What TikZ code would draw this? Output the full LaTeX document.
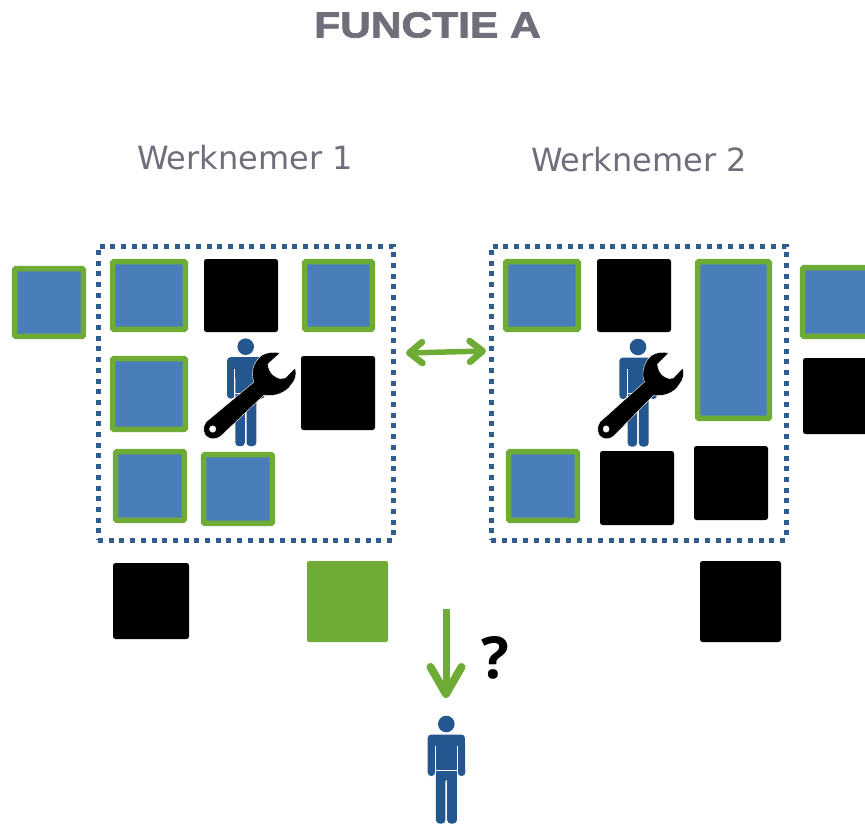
\documentclass[tikz,border=0pt]{standalone}
\usepackage{fontspec}
\setmainfont{Liberation Sans}
\newfontfamily\verd{DejaVu Sans}
\newfontfamily\opn{Open Sans}
\newfontfamily\ttl[BoldFeatures={FakeStretch=1.18,FakeBold=2.2}]{Liberation Sans}
\usetikzlibrary{arrows.meta}
\definecolor{grn}{HTML}{6EAC36}
\definecolor{blu}{HTML}{4A7EBB}
\definecolor{dkblu}{HTML}{24568F}
\definecolor{dots}{HTML}{2F5D8F}
\definecolor{gry}{HTML}{6E6F7A}
\tikzset{
  bluesq/.style={draw=grn,fill=blu,line width=5.5pt,rounded corners=1pt,inner sep=0pt,outer sep=0pt},
  blacksq/.style={fill=black,rounded corners=2.5pt,inner sep=0pt,outer sep=0pt},
  greensq/.style={fill=grn,rounded corners=2pt,inner sep=0pt,outer sep=0pt},
  frameb/.style={draw=dots,line width=5pt,dash pattern=on 5pt off 5.7pt,inner sep=0pt,outer sep=0pt},
  lab/.style={text=gry,font=\verd\fontsize{32}{36}\selectfont,inner sep=0pt},
  grnarrow/.style={draw=grn,line cap=butt},
  pics/person/.style={code={
    \fill[dkblu] (0,0) circle (8.3);
    \fill[dkblu,rounded corners=3.5pt] (-18.6,10.5) -- (18.6,10.5) -- (19,52) -- (11.5,52) -- (11.2,28) -- (10.6,28) -- (10.6,99.5) -- (0.9,99.5) -- (0.9,54) -- (-0.9,54) -- (-0.9,99.5) -- (-10.4,99.5) -- (-10.4,28) -- (-11.2,28) -- (-11.2,52) -- (-18.6,52) -- cycle;
    \draw[white,line width=.6pt] (-11,22) -- (-11,52) (11,22) -- (11,52) (-11,46.5) -- (11,46.5);
  }},
  pics/wrench/.style={code={
    \fill[black,draw=white,line width=.4pt,even odd rule]
      (76,33) .. controls (65,31) and (57,34) .. (53,40) .. controls (48,47) and (47,56) .. (50,62)
      -- (2,102) .. controls (-2,107) and (-1,116) .. (5,118) .. controls (10,120) and (15,118) .. (18,115)
      -- (60,75) .. controls (70,77) and (82,73) .. (87,65) .. controls (92,60) and (93,53) .. (91,48)
      -- (81,58) .. controls (78,59) and (75,59) .. (72,57) -- (69,55)
      .. controls (66,52) and (64,48) .. (64,44) -- cycle
      (8.7,109) circle (3.3);
  }}
}
\newcommand{\sqbox}[6]{%
  \pgfmathsetmacro{\mycx}{(#3+#5)/2}\pgfmathsetmacro{\mycy}{(#4+#6)/2}%
  \pgfmathsetmacro{\myw}{#5-#3}\pgfmathsetmacro{\myh}{#6-#4}%
  \node[#2,minimum width=\myw pt,minimum height=\myh pt] (#1) at (\mycx,\mycy) {};}
\begin{document}
\begin{tikzpicture}[x=1pt,y=-1pt]
\clip (0,0) rectangle (865,824);
\node[text=gry,font=\ttl\bfseries\fontsize{36}{40}\selectfont,inner sep=0pt] (title) at (427.5,25) {FUNCTIE A};
\node[lab] (w1) at (245,158) {Werknemer 1};
\node[lab] (w2) at (639,160) {Werknemer 2};
\sqbox{f1}{frameb}{98}{246}{393}{540}
\sqbox{f2}{frameb}{491}{246}{786}{540}
% blue squares
\sqbox{b1}{bluesq}{14.7}{268.7}{83.3}{336.3}
\sqbox{b2}{bluesq}{112.7}{261.7}{185.3}{329.3}
\sqbox{b3}{bluesq}{304.7}{261.7}{372.3}{329.3}
\sqbox{b4}{bluesq}{112.7}{358.7}{185.3}{429.3}
\sqbox{b5}{bluesq}{115.7}{451.7}{184.3}{520.3}
\sqbox{b6}{bluesq}{203.7}{454.7}{272.3}{523.3}
\sqbox{b7}{bluesq}{505.7}{261.7}{578.3}{329.3}
\sqbox{b8}{bluesq}{697.7}{261.7}{769.3}{418.3}
\sqbox{b9}{bluesq}{508.7}{451.7}{577.3}{520.3}
\sqbox{b10}{bluesq}{802.7}{267.7}{880}{336.3}
% black squares
\sqbox{k1}{blacksq}{204}{259}{278}{332}
\sqbox{k2}{blacksq}{301}{356}{375}{430}
\sqbox{k3}{blacksq}{597}{259}{671}{332}
\sqbox{k4}{blacksq}{600}{451}{674}{525}
\sqbox{k5}{blacksq}{694}{446}{768}{520}
\sqbox{k6}{blacksq}{803}{358}{880}{434}
\sqbox{k7}{blacksq}{113}{563}{189}{639}
\sqbox{k8}{blacksq}{700}{561}{781}{642}
\sqbox{g1}{greensq}{307}{561}{388}{642}
% persons
\pic at (245.7,346.7) {person};
\pic at (638,347) {person};
\pic at (446.3,724) {person};
\pic at (204,320) {wrench};
\pic[xscale=.93] at (598,320) {wrench};
% arrows
\coordinate (a1) at (406,353);
\coordinate (a2) at (486,351);
\coordinate (d1) at (446,609);
\coordinate (d2) at (446,698);
\draw[grnarrow,line width=5.5pt,{Straight Barb[length=13pt,width=21pt,line width=6.5pt,round]}-{Straight Barb[length=13pt,width=21pt,line width=6.5pt,round]}] (a1) -- (a2);
\draw[grnarrow,line width=7pt,-{Straight Barb[length=27pt,width=31pt,line width=8pt,round]}] (d1) -- (d2);
\node[font=\opn\bfseries\fontsize{58}{62}\selectfont,inner sep=0pt] (q) at (495.5,658) {?};
\end{tikzpicture}
\end{document}
